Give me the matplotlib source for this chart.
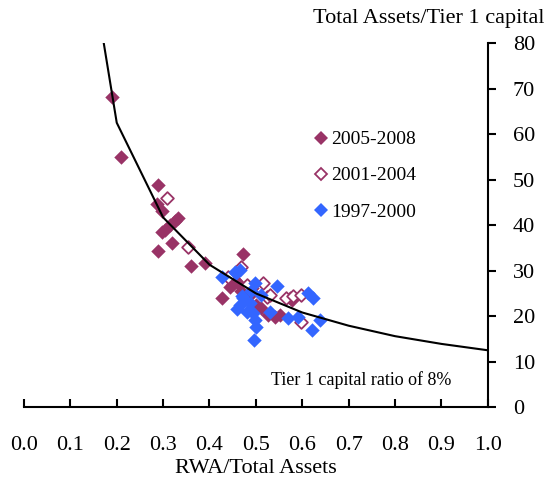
import matplotlib
matplotlib.use("Agg")
import matplotlib.pyplot as plt
from matplotlib.lines import Line2D

plt.rcParams['font.family'] = ['Liberation Serif', 'DejaVu Serif']

# RWA/Total Assets vs Total Assets/Tier 1 capital
x_0508 = [0.189, 0.209, 0.290, 0.286, 0.297, 0.297, 0.305, 0.315, 0.325, 0.333,
          0.320, 0.289, 0.360, 0.390, 0.473, 0.427, 0.445, 0.450, 0.455, 0.462,
          0.476, 0.491, 0.468, 0.485, 0.500, 0.512, 0.527, 0.541, 0.552, 0.573,
          0.577]
y_0508 = [68.2, 54.9, 48.8, 44.6, 43.1, 38.5, 39.0, 40.0, 40.8, 41.5,
          36.1, 34.3, 31.1, 31.7, 33.7, 23.9, 26.5, 27.0, 28.0, 27.2,
          26.4, 26.1, 25.5, 24.5, 22.5, 21.7, 20.2, 19.8, 20.2, 24.0,
          23.5]

x_0104 = [0.309, 0.353, 0.469, 0.440, 0.480, 0.516, 0.523, 0.530, 0.566, 0.580,
          0.598, 0.597]
y_0104 = [45.9, 35.2, 30.8, 28.6, 26.8, 27.2, 24.2, 24.6, 23.9, 24.4,
          24.6, 18.7]

x_9700 = [0.426, 0.455, 0.458, 0.466, 0.498, 0.545, 0.470, 0.473, 0.490, 0.466,
          0.487, 0.460, 0.480, 0.494, 0.498, 0.501, 0.496, 0.512, 0.530, 0.570,
          0.591, 0.613, 0.624, 0.620, 0.638]
y_9700 = [28.6, 29.7, 29.4, 30.1, 27.2, 26.6, 24.5, 23.9, 25.5, 22.4,
          22.8, 21.5, 21.0, 20.6, 19.1, 17.6, 14.7, 24.6, 20.9, 19.5,
          19.8, 25.0, 23.9, 16.9, 19.1]

# Tier 1 capital ratio of 8% line
x_curve = [0.1, 0.2, 0.3, 0.4, 0.5, 0.6, 0.7, 0.8, 0.9, 1.0]
y_curve = [125.0, 62.5, 41.7, 31.3, 25.0, 20.8, 17.9, 15.6, 13.9, 12.5]

purple = '#993366'
blue = '#3366ff'

fig = plt.figure(figsize=(5.45, 4.79), dpi=100)
ax = fig.add_axes([0.044, 0.150, 0.851, 0.760])

ax.scatter(x_0508, y_0508, marker='D', s=54, color=purple, linewidths=0, zorder=2)
ax.scatter(x_0104, y_0104, marker='D', s=42, facecolors='white', edgecolors=purple,
           linewidths=1.3, zorder=3)
ax.scatter(x_9700, y_9700, marker='D', s=54, color=blue, linewidths=0, zorder=4)
ax.plot(x_curve, y_curve, color='black', lw=1.5, zorder=5)

ax.set_xlim(0, 1.0)
ax.set_ylim(0, 80)
ax.set_xticks([i / 10 for i in range(11)])
ax.set_xticklabels([f"{i / 10:.1f}" for i in range(11)])
ax.set_yticks(range(0, 81, 10))

ax.spines['left'].set_visible(False)
ax.spines['top'].set_visible(False)
ax.spines['right'].set_linewidth(1.5)
ax.spines['bottom'].set_linewidth(1.5)
ax.yaxis.tick_right()
ax.tick_params(axis='x', direction='in', length=6, width=1.5, pad=21, labelsize=16)
ax.tick_params(axis='y', direction='out', length=6, width=1.5, pad=12, labelsize=16)

ax.set_xlabel("RWA/Total Assets", fontsize=16, labelpad=3)
fig.text(429 / 545, 1 - 18 / 479, "Total Assets/Tier 1 capital", fontsize=16,
         ha='center', va='center')
ax.text(0.922, 5.9, "Tier 1 capital ratio of 8%", fontsize=13, ha='right', va='center')

handles = [
    Line2D([], [], marker='D', ls='none', ms=7.0, color=purple, mew=0),
    Line2D([], [], marker='D', ls='none', ms=6.2, mfc='white', mec=purple, mew=1.3),
    Line2D([], [], marker='D', ls='none', ms=7.0, color=blue, mew=0),
]
fig.legend(handles, ["2005-2008", "2001-2004", "1997-2000"], loc='upper left',
           bbox_to_anchor=(0.578, 0.727), frameon=False, fontsize=14,
           handlelength=0.6, handletextpad=0.25, labelspacing=0.95,
           borderpad=0, borderaxespad=0)

fig.savefig("out.png", dpi=100)
